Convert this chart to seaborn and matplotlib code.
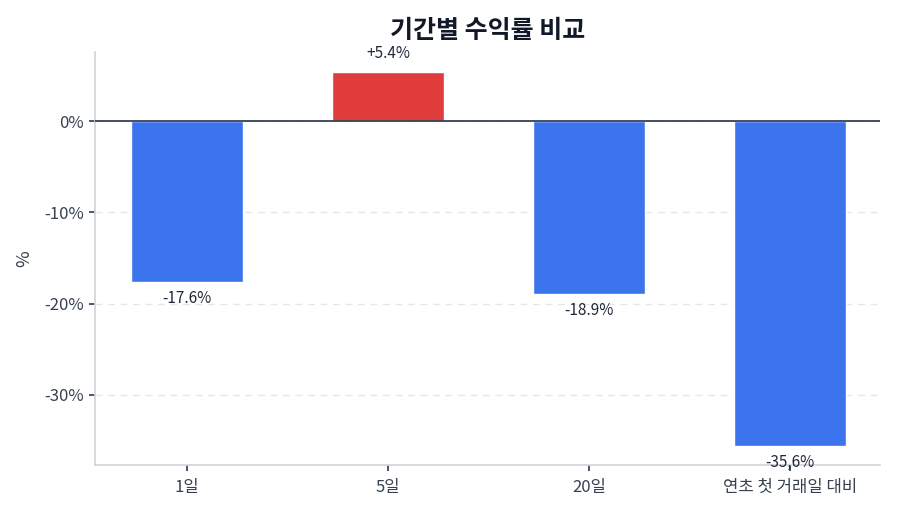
import seaborn as sns
import pandas as pd
from matplotlib import pyplot as plt

periods = ["1일", "5일", "20일", "연초 첫 거래일 대비"]
returns = [-17.6, 5.4, -18.9, -35.6]
labels = ["-17.6%", "+5.4%", "-18.9%", "-35,6%"]
yticks = [0, -10, -20, -30]

BLUE = "#3B74EC"
RED = "#E03C3C"


def main():
    sns.set_theme(style="white")
    plt.rcParams['font.family'] = ['Noto Sans CJK KR', 'DejaVu Sans']
    df = pd.DataFrame({"period": periods, "ret": returns})
    colors = [RED if v > 0 else BLUE for v in returns]

    fig, ax = plt.subplots(figsize=(9, 5.14), dpi=100)
    sns.barplot(data=df, x="period", y="ret", hue="period", palette=colors,
                width=0.56, legend=False, saturation=1, ax=ax)

    # labels above / below the bar ends
    for i, (v, t) in enumerate(zip(returns, labels)):
        off = 13 if v > 0 else -12
        ax.annotate(t, (i, v), xytext=(0, off), textcoords="offset points",
                    ha="center", va="center", fontsize=11, color="#1f2937")

    ax.axhline(0, color="#374151", lw=1.3, zorder=3)
    ax.set_ylim(-37.7, 7.6)
    ax.set_xlim(-0.46, 3.45)
    ax.set_yticks(yticks)
    ax.set_yticklabels([f"{y}%" for y in yticks])
    ax.yaxis.grid(True, ls=(0, (5, 4)), color="#e5e7eb", lw=1)
    ax.set_axisbelow(True)
    ax.tick_params(axis="both", labelsize=12, colors="#374151", length=4,
                   left=True, bottom=True)
    ax.tick_params(axis="x", pad=6)
    for s in ["top", "right"]:
        ax.spines[s].set_visible(False)
    for s in ["left", "bottom"]:
        ax.spines[s].set_color("#d1d5db")
    ax.set_xlabel(None)
    ax.set_ylabel("%", fontsize=13, color="#374151", labelpad=8)
    ax.set_title("기간별 수익률 비교", fontsize=18, fontweight="bold",
                 color="#111827", pad=10)
    fig.subplots_adjust(left=0.105, right=0.978, top=0.899, bottom=0.095)
    fig.savefig("out.png", dpi=100)


if __name__ == "__main__":
    main()
